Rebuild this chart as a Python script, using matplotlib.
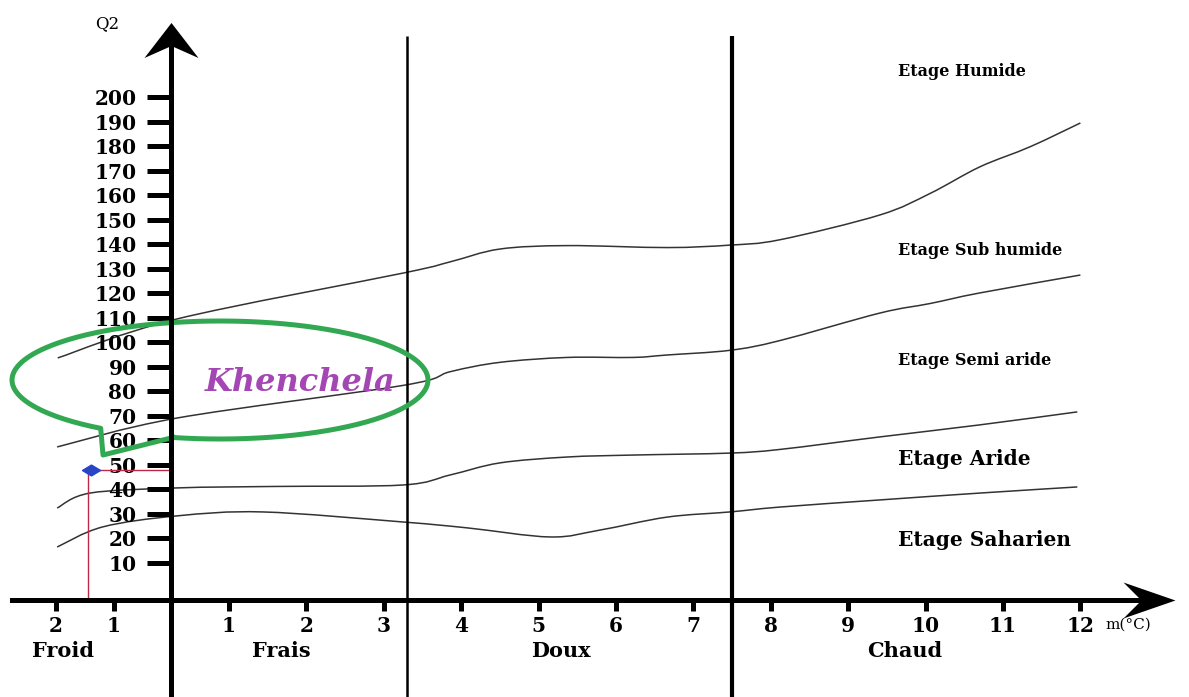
import numpy as np
import matplotlib
matplotlib.use('Agg')
import matplotlib.pyplot as plt
from matplotlib.path import Path
from matplotlib.patches import PathPatch
from matplotlib.transforms import IdentityTransform

plt.rcParams['font.family'] = ['DejaVu Serif']

# Emberger climagram: m (deg C) on x, Q2 on y
m_lim1 = [-1.97, 0.10, 3.25, 3.86, 4.50, 5.37, 6.66, 7.47, 8.12, 9.41, 10.06, 10.70, 11.35, 12.00]
q_lim1 = [93.6, 109.5, 128.2, 132.8, 138.0, 139.4, 138.6, 139.6, 141.8, 151.9, 160.7, 171.5, 179.7, 189.4]

m_lim2 = [-1.98, 0.10, 3.25, 3.86, 4.50, 5.37, 6.22, 6.66, 7.47, 8.12, 9.41, 10.06, 10.70, 12.00]
q_lim2 = [57.3, 69.1, 82.4, 88.0, 91.8, 93.8, 93.8, 94.8, 96.7, 100.7, 111.9, 115.8, 120.1, 127.4]

m_lim3 = [-1.98, -1.41, 0.10, 1.60, 3.25, 3.86, 4.50, 5.37, 6.22, 7.47, 8.12, 9.41, 10.70, 11.96]
q_lim3 = [32.4, 38.5, 40.6, 41.2, 41.8, 45.9, 50.8, 53.2, 54.0, 54.8, 56.3, 61.4, 66.3, 71.6]

m_lim4 = [-1.98, -1.19, 0.10, 1.44, 3.25, 4.08, 5.15, 5.79, 6.66, 7.47, 8.12, 9.41, 10.70, 11.96]
q_lim4 = [16.5, 24.7, 29.2, 30.8, 26.7, 24.3, 20.6, 23.4, 28.7, 30.8, 32.8, 35.7, 38.5, 41.0]

limits_m = [m_lim1, m_lim2, m_lim3, m_lim4]
limits_q = [q_lim1, q_lim2, q_lim3, q_lim4]

# thermal zone boundaries (m) and names
zone_bounds = [3.3, 7.5]
zone_names = ['Froid', 'Frais', 'Doux', 'Chaud']
zone_m = [-1.88, 1.67, 5.29, 9.73]

etages = ['Etage Humide', 'Etage Sub humide', 'Etage Semi aride', 'Etage Aride', 'Etage Saharien']
etage_q = [210.2, 137.6, 92.4, 52.4, 19.4]
etage_size = [11.5, 11.5, 11.5, 14.5, 14.5]

q_ticks = list(range(10, 210, 10))
m_ticks = [-2, -1, 1, 2, 3, 4, 5, 6, 7, 8, 9, 10, 11, 12]
m_tick_labels = ['2', '1', '1', '2', '3', '4', '5', '6', '7', '8', '9', '10', '11', '12']

station = 'Khenchela'
station_m = -1.45
station_q = 48.0

# the picture squeezes the part left of m = 1
SLOPE = 0.745


def fwd(m):
    m = np.asarray(m, dtype=float)
    return np.where(m < 1, 1 + (m - 1) * SLOPE, m)


def inv(u):
    u = np.asarray(u, dtype=float)
    return np.where(u < 1, 1 + (u - 1) / SLOPE, u)


def smooth_line(ax, xs, ys, **kw):
    # catmull-rom through the read points, built in display space
    p = ax.transData.transform(np.column_stack([xs, ys]))
    p = np.vstack([p[0], p, p[-1]])
    verts = [p[1]]
    codes = [Path.MOVETO]
    for i in range(1, len(p) - 2):
        c1 = p[i] + (p[i + 1] - p[i - 1]) / 6
        c2 = p[i + 1] - (p[i + 2] - p[i]) / 6
        verts += [c1, c2, p[i + 1]]
        codes += [Path.CURVE4] * 3
    ax.add_patch(PathPatch(Path(verts, codes), fill=False,
                           transform=IdentityTransform(), **kw))


W, H = 1189, 697
fig = plt.figure(figsize=(W / 100, H / 100), dpi=100)
ax = fig.add_axes([0, 0, 1, 1])
ax.set_xscale('function', functions=(fwd, inv))
ax.set_xlim(-2.971, 13.403)
ax.set_ylim(-44.65, 239.54)

AXIS_Q = -5
ax.spines['top'].set_visible(False)
ax.spines['right'].set_visible(False)
ax.spines['left'].set_position(('data', 0))
ax.spines['bottom'].set_position(('data', AXIS_Q))
ax.spines['left'].set_linewidth(3.6)
ax.spines['bottom'].set_linewidth(3.6)
ax.spines['left'].set_bounds(-45, 221)
ax.spines['bottom'].set_bounds(-2.76, 12.85)

ax.set_yticks(q_ticks)
ax.set_yticklabels([str(q) for q in q_ticks])
ax.set_xticks(m_ticks)
ax.set_xticklabels(m_tick_labels)
ax.tick_params(axis='y', direction='out', length=17, width=3.6, pad=8, labelsize=14.5)
ax.tick_params(axis='x', direction='out', length=8, width=3.6, pad=4, labelsize=14.5)
for lab in ax.get_xticklabels() + ax.get_yticklabels():
    lab.set_fontweight('bold')
ax.minorticks_off()

# axis arrow heads (stealth shape)
head_up = [(0, 17.5), (27, -17.5), (0, -5.5), (-27, -17.5), (0, 17.5)]
head_right = [(26, 0), (-26, 18), (-8, 0), (-26, -18), (26, 0)]
ax.plot(0, 223.4, marker=head_up, ms=38.9, color='k', mew=0, ls='none', clip_on=False)
ax.plot(12.886, AXIS_Q, marker=head_right, ms=37.4, color='k', mew=0, ls='none', clip_on=False)

# zone boundaries
ax.vlines(zone_bounds[0], -45, 225, color='k', lw=1.8)
ax.vlines(zone_bounds[1], -45, 225, color='k', lw=3.0)

# bioclimatic limits
for xm, yq in zip(limits_m, limits_q):
    smooth_line(ax, xm, yq, edgecolor='#333333', lw=1.1)

# labels
for name, xm in zip(zone_names, zone_m):
    ax.text(xm, -25.9, name, ha='center', va='center', fontsize=15, fontweight='bold')
for name, yq, fs in zip(etages, etage_q, etage_size):
    ax.text(9.644, yq, name, ha='left', va='center', fontsize=fs, fontweight='bold')
ax.text(-1.12, 229.8, 'Q2', ha='center', va='center', fontsize=12)
ax.text(12.32, -15.3, 'm(°C)', ha='left', va='center', fontsize=11)

# station
ax.plot([station_m, station_m], [AXIS_Q, station_q], color='#c02848', lw=1)
ax.plot([station_m, 0], [station_q, station_q], color='#c02848', lw=1)
diamond = [(-1, 0), (0, 0.6), (1, 0), (0, -0.6), (-1, 0)]
ax.plot(station_m + 0.05, station_q, marker=diamond, ms=13, color='#2a44c8', ls='none')
ax.text(1.92, 83.4, station, ha='center', va='center', fontsize=23,
        fontweight='bold', fontstyle='italic', color='#a546b5')

# green callout around the station name (pixel geometry of the bubble)
cx, cy, a, b = 220, 380, 208, 59
t = np.radians(np.linspace(257, 595, 300))
bx = list(cx + a * np.cos(t)) + [103, 173]
by = list((H - cy) + b * np.sin(t)) + [H - 455, H - 437.5]
ax.plot(np.array(bx) / W, np.array(by) / H, color='#33a852', lw=3.6,
        transform=fig.transFigure, solid_joinstyle='round')

fig.savefig('out.png', dpi=100, facecolor='white')
